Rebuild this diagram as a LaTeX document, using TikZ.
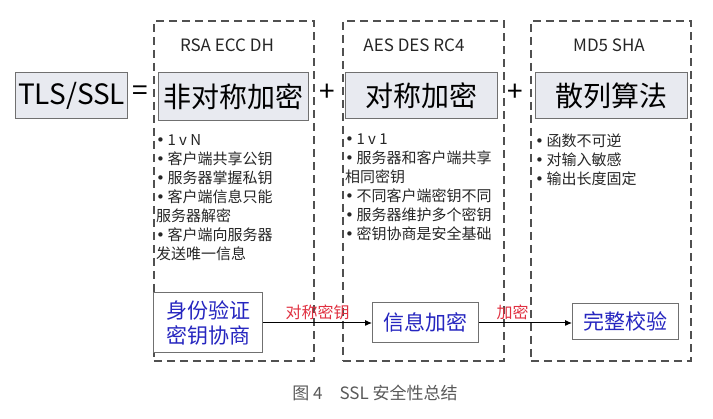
\documentclass[tikz,border=0pt]{standalone}
\usepackage{fontspec}
\setmainfont{Noto Sans CJK SC}
\newfontfamily\bulletfont{DejaVu Sans}
\usetikzlibrary{arrows.meta, positioning}

\definecolor{boxfill}{HTML}{E8EAF0}
\definecolor{boxline}{HTML}{707070}
\definecolor{dashline}{HTML}{505050}
\definecolor{bluetext}{HTML}{2626C0}
\definecolor{redtext}{HTML}{E03040}

\newcommand{\bul}{{\bulletfont •}\,}

\begin{document}
\begin{tikzpicture}[
		x=1pt, y=-1pt,
		% Region styles
		region/.style={draw=dashline, line width=1.6pt, dash pattern=on 8pt off 5pt, inner sep=0pt, anchor=north west},
		% Title box styles
		titlebox/.style={draw=boxline, line width=1.2pt, fill=boxfill, inner sep=0pt, anchor=north west, font=\fontsize{28}{30}\selectfont},
		header/.style={font=\fontsize{17}{20}\selectfont, text=black!85},
		% List and step styles
		itemlist/.style={anchor=north west, align=left, inner sep=0pt, text=black!85, font=\fontsize{15}{19}\selectfont},
		stepbox/.style={draw=boxline, line width=1.2pt, fill=white, inner sep=0pt, anchor=north west, text=bluetext, align=center, font=\fontsize{21}{25}\selectfont},
		flow/.style={-{Latex[length=7pt, width=6pt]}, line width=1pt},
		flowlabel/.style={text=redtext, font=\fontsize{16}{18}\selectfont}
		]
		\useasboundingbox (0,0) rectangle (713,419);
		
		% --- DASHED REGIONS ---
		\node[region, minimum width=160pt, minimum height=340pt] (R1) at (153,20) {};
		\node[region, minimum width=161pt, minimum height=340pt] (R2) at (342,20) {};
		\node[region, minimum width=160pt, minimum height=340pt] (R3) at (530,20) {};
		
		\node[header] (H1) at (227,45) {RSA ECC DH};
		\node[header] (H2) at (414,45) {AES DES RC4};
		\node[header] (H3) at (609,45) {MD5 SHA};
		
		% --- TOP ROW: EQUATION ---
		\node[titlebox, minimum width=112pt, minimum height=46pt] (tls) at (15,72) {TLS/SSL};
		\node[font=\fontsize{28}{30}\selectfont] (eq) at (140,93) {=};
		\node[titlebox, minimum width=150pt, minimum height=48pt] (asym) at (158,72) {非对称加密};
		\node[font=\fontsize{28}{30}\selectfont] (plus1) at (327,93) {+};
		\node[titlebox, minimum width=152pt, minimum height=46pt] (sym) at (345,72) {对称加密};
		\node[font=\fontsize{28}{30}\selectfont] (plus2) at (515,93) {+};
		\node[titlebox, minimum width=152pt, minimum height=46pt] (hash) at (535,72) {散列算法};
		
		% --- MIDDLE: PROPERTIES ---
		\node[itemlist] (L1) at (156,134) {\bul 1 v N\\\bul 客户端共享公钥\\\bul 服务器掌握私钥\\\bul 客户端信息只能\\服务器解密\\\bul 客户端向服务器\\发送唯一信息};
		\node[itemlist] (L2) at (345,134) {\bul 1 v 1\\\bul 服务器和客户端共享\\相同密钥\\\bul 不同客户端密钥不同\\\bul 服务器维护多个密钥\\\bul 密钥协商是安全基础};
		\node[itemlist] (L3) at (535,134) {\bul 函数不可逆\\\bul 对输入敏感\\\bul 输出长度固定};
		
		% --- BOTTOM ROW: STEPS ---
		\node[stepbox, minimum width=109pt, minimum height=60pt] (auth) at (153,292) {身份验证\\密钥协商};
		\node[stepbox, minimum width=106pt, minimum height=40pt] (enc) at (372,302) {信息加密};
		\node[stepbox, minimum width=106pt, minimum height=36pt] (check) at (572,303) {完整校验};
		
		\draw[flow] (auth.east |- 0,323) -- (enc.west |- 0,323) node[flowlabel, midway, above=-1pt] {对称密钥};
		\draw[flow] (enc.east |- 0,323) -- (check.west |- 0,323) node[flowlabel, pos=0.36, above=-1pt] {加密};
		
		% Caption
		\node[text=black!65, font=\fontsize{17}{20}\selectfont] (cap) at (375,393) {图 4\quad SSL 安全性总结};
		
	\end{tikzpicture}
\end{document}
